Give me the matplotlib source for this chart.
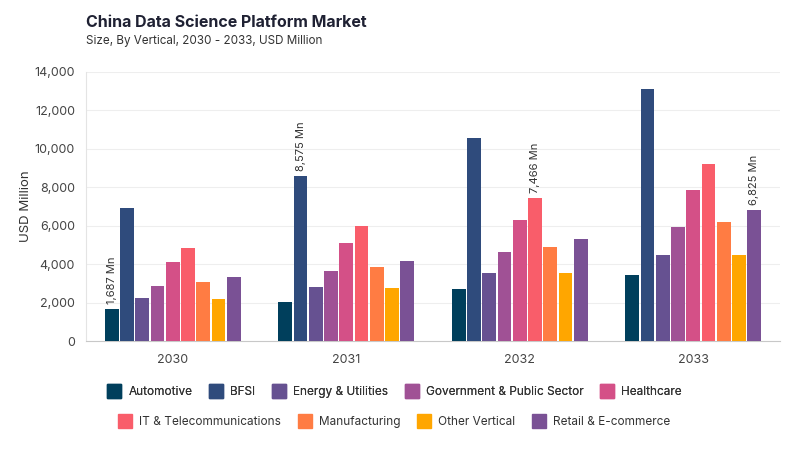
"""China Data Science Platform Market - grouped bars by vertical."""

import numpy as np
import matplotlib.pyplot as plt
from matplotlib.lines import Line2D

plt.rcParams['font.family'] = ['Inter', 'DejaVu Sans']

years = ["2030", "2031", "2032", "2033"]
verticals = ["Automotive", "BFSI", "Energy & Utilities", "Government & Public Sector",
             "Healthcare", "IT & Telecommunications", "Manufacturing", "Other Vertical",
             "Retail & E-commerce"]

automotive = [1687, 2050, 2690, 3430]
bfsi = [6900, 8575, 10570, 13130]
energy = [2230, 2800, 3550, 4500]
government = [2860, 3640, 4650, 5950]
healthcare = [4110, 5100, 6300, 7850]
it_telecom = [4840, 5970, 7466, 9200]
manufacturing = [3080, 3870, 4880, 6180]
other = [2210, 2780, 3520, 4480]
retail = [3310, 4180, 5300, 6825]

series = [automotive, bfsi, energy, government, healthcare, it_telecom,
          manufacturing, other, retail]
colors = ["#003f5c", "#2f4b7c", "#665191", "#a05195", "#d45087",
          "#f95d6a", "#ff7c43", "#ffa600", "#7a5195"]

# which bar gets a value label in each year (index into series)
labelled = {0: 0, 1: 1, 2: 5, 3: 8}

fig = plt.figure(figsize=(8, 4.5), dpi=100)
ax = fig.add_axes([0.1075, 0.242, 0.8675, 0.598])

x = np.arange(len(years))
n = len(series)
slot = 0.79 / n
bar_w = slot * 0.9
for i, (vals, c) in enumerate(zip(series, colors)):
    pos = x - 0.395 + slot * (i + 0.5)
    ax.bar(pos, vals, width=bar_w, color=c, zorder=3)
    for j, v in enumerate(vals):
        if labelled[j] == i:
            ax.text(pos[j], v + 250, f"{v:,} Mn", rotation=90, ha="center",
                    va="bottom", fontsize=8, color="#333333", zorder=4)

ax.set_xlim(-0.5, len(years) - 0.5)
ax.set_ylim(0, 14000)
ax.set_yticks(np.arange(0, 14001, 2000))
ax.set_yticklabels([f"{v:,}" for v in range(0, 14001, 2000)])
ax.set_xticks(x)
ax.set_xticklabels(years)
ax.tick_params(axis="both", length=0, labelsize=9, colors="#444444", pad=8)
ax.tick_params(axis="x", pad=9)
ax.grid(axis="y", color="#eeeeee", linewidth=0.8, zorder=0)
for s in ["top", "right"]:
    ax.spines[s].set_visible(False)
ax.spines["left"].set_color("#e4e4e4")
ax.spines["bottom"].set_color("#c8c8c8")
ax.set_ylabel("USD Million", fontsize=9.5, color="#333333", labelpad=2)

fig.text(0.1075, 0.951, "China Data Science Platform Market", fontsize=11.5,
         fontweight="bold", color="#1f2133", va="center")
fig.text(0.1075, 0.909, "Size, By Vertical, 2030 - 2033, USD Million", fontsize=8.4,
         color="#333333", va="center")

handles = [Line2D([0], [0], marker="s", linestyle="", markersize=10,
                  markerfacecolor=c, markeredgecolor=c, label=v)
           for v, c in zip(verticals, colors)]
kw = dict(frameon=False, fontsize=8.5, handletextpad=0.2, columnspacing=1.0,
          labelcolor="#333333", loc="center")
leg1 = fig.legend(handles=handles[:5], ncol=5, bbox_to_anchor=(0.49, 0.128), **kw)
fig.add_artist(leg1)
fig.legend(handles=handles[5:], ncol=4, bbox_to_anchor=(0.49, 0.062), **kw)

fig.savefig("out.png", dpi=100, facecolor="white")
